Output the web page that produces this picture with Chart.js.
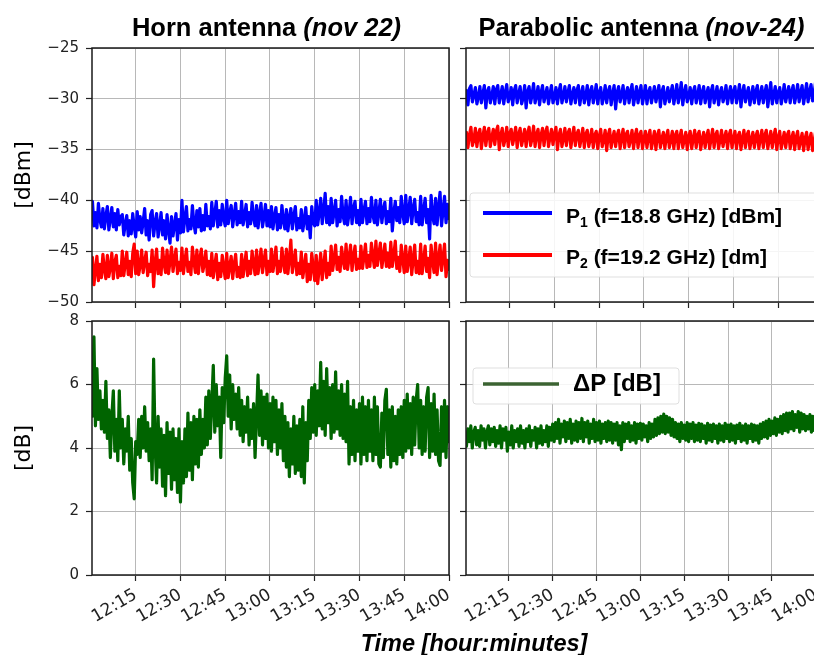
<!DOCTYPE html>
<html><head><meta charset="utf-8">
<script src="https://cdn.jsdelivr.net/npm/chart.js@4.4.1/dist/chart.umd.min.js"></script>
<style>
html,body{margin:0;padding:0;background:#fff;overflow:hidden;}
#wrap{position:relative;width:814px;height:655px;overflow:hidden;background:#fff;}
#wrap canvas{position:absolute;left:0;top:0;}
</style></head><body>
<div id="wrap">
<canvas id="cTL" width="830" height="655"></canvas>
<canvas id="cTR" width="830" height="655"></canvas>
<canvas id="cBL" width="830" height="655"></canvas>
<canvas id="cBR" width="830" height="655"></canvas>
</div>
<script>
// ---------- DATA ----------
// samples: one every half minute, first one 0.5 min after 12:00
const sampleStartMin = 0.5;
const sampleStepMin = 0.5;
const timeTicksMin = [15, 30, 45, 60, 75, 90, 105, 120];   // 12:15 ... 14:00
const panelTitles = [['Horn antenna ', '(nov 22)'], ['Parabolic antenna ', '(nov-24)']];
const seriesLabels = ['P\u2081 (f=18.8 GHz) [dBm]', 'P\u2082 (f=19.2 GHz) [dm]', '\u0394P [dB]'];
const xAxisLabel = 'Time [hour:minutes]';
const powerAxisLabel = '[dBm]';
const diffAxisLabel = '[dB]';

// Horn antenna (nov 22)  [dBm]
const hornP1 = [
 -40.1,-42.5,-41.2,-42.7,-40.3,-41.9,-42.6,-40.8,-42.8,-41.5,-40.6,-42.9,-41.8,-40.7,-42.6,-41.3,-42.9,-40.9,-42.4,-41.6,
 -41.4,-43.4,-42.3,-41.5,-43.5,-42.0,-43.3,-41.3,-42.6,-43.6,-41.1,-42.9,-41.6,-43.2,-42.1,-40.8,-43.4,-42.0,-43.9,-41.4,
 -41.0,-43.5,-42.2,-41.3,-43.6,-42.5,-41.2,-43.4,-42.0,-43.8,-41.4,-42.9,-44.2,-41.6,-43.5,-42.4,-41.3,-43.9,-41.9,-43.2,
 -40.0,-43.1,-41.7,-40.6,-43.0,-41.9,-42.8,-40.5,-42.3,-43.2,-41.0,-42.6,-40.8,-43.0,-41.5,-42.9,-40.4,-42.5,-41.6,-42.8,
 -40.2,-42.5,-41.3,-40.1,-42.6,-41.0,-42.4,-40.4,-41.8,-42.5,-40.0,-42.3,-41.2,-40.5,-42.6,-41.4,-40.3,-42.4,-41.1,-42.2,
 -40.1,-42.4,-41.5,-40.4,-42.6,-41.2,-42.3,-40.2,-41.7,-42.5,-40.5,-42.7,-41.3,-40.3,-42.6,-41.6,-40.4,-42.5,-41.0,-42.6,
 -40.6,-42.8,-41.6,-40.7,-42.9,-41.4,-42.7,-40.5,-42.0,-42.8,-40.9,-43.0,-41.7,-40.8,-42.8,-41.5,-40.6,-42.9,-41.8,-42.7,
 -40.9,-43.0,-41.9,-40.7,-42.8,-41.6,-43.7,-40.6,-42.2,-42.5,-40.0,-42.4,-41.2,-39.8,-42.3,-41.0,-39.3,-42.2,-40.6,-42.4,
 -39.8,-42.2,-41.1,-40.0,-42.5,-40.9,-42.1,-39.6,-41.5,-42.3,-40.0,-42.4,-41.3,-39.7,-42.3,-40.8,-40.1,-42.2,-41.0,-42.4,
 -39.9,-42.2,-41.0,-40.1,-42.3,-40.8,-42.1,-39.7,-41.4,-42.2,-40.0,-42.4,-41.2,-39.9,-42.2,-40.9,-40.2,-42.3,-41.1,-42.1,
 -39.8,-43.0,-41.2,-40.1,-42.0,-40.7,-42.2,-39.6,-41.3,-42.3,-39.5,-42.1,-41.0,-39.7,-42.3,-40.8,-39.9,-42.1,-41.2,-42.4,
 -39.6,-42.4,-41.0,-39.8,-42.2,-40.9,-43.8,-39.5,-41.5,-42.3,-39.8,-42.4,-40.7,-39.2,-42.5,-41.0,-39.6,-42.2,-40.4,-41.8
];
const hornP2 = [
 -45.6,-48.3,-46.9,-45.5,-47.9,-46.3,-47.6,-45.3,-46.8,-47.7,-45.4,-47.5,-46.6,-45.2,-47.7,-46.1,-45.4,-47.6,-46.5,-47.4,
 -45.0,-47.4,-46.2,-45.1,-47.3,-46.0,-47.5,-45.2,-44.3,-47.2,-45.0,-47.3,-46.4,-44.9,-47.1,-46.0,-45.1,-47.4,-46.3,-47.0,
 -44.9,-48.5,-46.1,-44.8,-47.2,-45.9,-47.3,-44.7,-46.2,-47.1,-44.9,-47.2,-46.0,-44.6,-47.0,-45.8,-44.8,-47.2,-46.1,-46.9,
 -44.7,-47.2,-45.9,-44.8,-47.0,-46.1,-47.3,-44.6,-46.0,-47.1,-44.9,-47.2,-45.7,-44.8,-47.0,-46.2,-45.0,-47.3,-46.0,-47.4,
 -45.2,-47.6,-46.4,-45.3,-47.8,-46.2,-47.5,-45.4,-46.6,-47.7,-45.2,-47.6,-46.5,-45.5,-47.7,-46.3,-45.3,-47.5,-46.6,-47.6,
 -45.3,-47.5,-46.3,-45.1,-47.4,-46.0,-47.2,-45.0,-46.2,-47.3,-44.9,-47.2,-46.1,-44.8,-47.1,-45.9,-44.9,-47.3,-46.0,-47.0,
 -44.8,-47.0,-45.9,-44.6,-47.2,-46.0,-47.0,-44.7,-46.1,-47.1,-44.8,-47.2,-45.8,-43.9,-47.1,-46.0,-44.9,-47.3,-46.2,-47.2,
 -45.1,-47.6,-46.5,-45.3,-48.0,-46.3,-47.8,-45.2,-46.6,-47.9,-45.4,-48.2,-46.7,-45.2,-47.8,-46.4,-45.0,-47.6,-46.2,-47.3,
 -44.5,-46.9,-45.8,-44.4,-46.8,-45.6,-47.0,-44.6,-45.9,-46.7,-44.3,-46.8,-45.7,-44.4,-46.9,-45.5,-44.5,-46.8,-45.8,-46.7,
 -44.5,-46.7,-45.6,-44.3,-46.6,-45.4,-46.5,-44.2,-45.5,-46.6,-44.0,-46.4,-45.3,-44.2,-46.6,-45.5,-44.3,-46.5,-45.2,-46.6,
 -44.1,-46.5,-45.4,-44.0,-46.7,-45.6,-47.0,-44.4,-45.8,-47.1,-44.5,-47.0,-45.9,-44.6,-47.3,-45.8,-44.4,-47.1,-46.0,-47.2,
 -44.3,-47.2,-45.9,-44.5,-47.0,-45.7,-47.6,-44.4,-46.0,-47.1,-44.2,-47.3,-45.8,-44.4,-46.9,-45.6,-44.3,-47.5,-45.9,-46.8
];
// Horn antenna (nov 22)  [dB]
const hornDP = [
 5.0,7.5,4.7,6.5,4.9,5.8,4.6,5.5,4.5,6.1,4.3,5.2,3.7,5.0,5.8,3.9,4.9,3.6,5.8,4.0,
 4.9,3.5,4.6,3.9,5.0,3.3,4.3,2.9,2.4,4.2,3.8,4.9,3.7,5.0,4.0,5.3,3.9,4.8,3.6,4.6,
 3.0,6.8,4.1,2.9,5.0,3.4,4.6,2.8,4.4,2.5,4.8,3.2,4.5,2.7,4.6,3.0,4.3,2.6,4.6,2.3,
 4.2,2.9,4.6,3.1,5.1,3.3,4.8,3.0,5.0,3.5,4.9,3.4,5.2,3.8,4.9,4.0,5.6,4.1,5.8,4.3,
 5.4,6.6,4.5,6.0,4.7,5.6,3.7,5.9,4.8,6.2,6.9,5.0,6.3,4.6,6.0,4.9,5.7,4.6,5.9,4.4,
 5.5,4.2,5.3,4.5,5.6,4.1,5.2,4.3,5.4,3.7,5.0,6.3,4.4,5.8,4.1,5.6,4.3,5.7,4.0,5.4,
 3.9,5.6,4.2,5.5,3.8,5.2,4.0,5.4,3.6,5.0,3.4,4.8,3.1,4.6,3.5,5.0,3.2,4.7,3.3,4.9,
 3.1,5.3,2.9,4.8,3.6,5.5,4.3,5.9,4.5,6.0,4.4,5.8,4.7,6.7,4.6,6.1,4.4,6.5,4.8,5.9,
 4.3,6.0,4.5,6.4,4.6,5.8,4.4,6.0,4.3,5.7,4.2,6.1,3.5,5.3,3.8,5.5,3.6,5.2,3.9,5.4,
 3.5,5.6,3.8,5.3,3.6,5.5,3.9,5.2,3.6,5.6,3.8,5.3,3.5,3.4,5.1,3.7,5.5,5.85,3.8,5.2,
 3.4,5.3,3.6,5.0,3.5,5.2,3.8,5.3,3.7,5.5,3.9,5.7,4.0,5.4,3.8,5.6,4.1,5.5,6.0,4.0,
 5.5,3.8,5.3,3.9,5.6,5.9,3.7,5.4,3.9,5.7,3.8,5.2,3.6,3.45,5.3,3.9,5.5,3.7,5.3,4.2
];
// Parabolic antenna (nov-24)  [dBm]
const paraP1 = [
 -29.2,-30.6,-29.0,-28.7,-30.3,-29.6,-28.9,-30.5,-29.8,-28.8,-30.4,-29.5,-28.7,-30.9,-29.3,-28.9,-30.4,-29.7,-28.8,-30.5,
 -29.1,-28.7,-30.4,-29.6,-28.8,-30.5,-29.4,-28.6,-30.3,-29.8,-28.9,-30.6,-29.2,-28.7,-30.4,-29.5,-28.8,-30.5,-29.9,-28.7,
 -30.9,-29.3,-28.8,-30.4,-29.6,-28.5,-30.4,-29.7,-28.8,-30.6,-29.4,-28.7,-30.3,-29.6,-28.9,-30.5,-29.5,-28.7,-30.4,-29.8,
 -28.9,-30.5,-29.3,-28.6,-30.4,-29.7,-28.8,-30.3,-29.4,-28.7,-30.5,-29.6,-28.9,-30.4,-29.2,-28.7,-30.6,-29.5,-28.8,-30.4,
 -29.7,-28.7,-30.6,-29.3,-28.8,-30.4,-29.6,-28.6,-30.5,-29.4,-28.9,-30.5,-29.8,-28.7,-30.4,-29.3,-28.8,-30.6,-29.5,-28.7,
 -31.0,-29.4,-28.8,-30.3,-29.6,-28.7,-30.5,-29.5,-28.9,-30.4,-29.3,-28.6,-30.6,-29.7,-28.8,-30.4,-29.4,-28.7,-30.5,-29.6,
 -28.7,-30.5,-29.4,-28.9,-30.4,-29.6,-28.8,-30.3,-29.5,-28.7,-30.8,-29.3,-28.8,-30.5,-29.7,-28.9,-30.3,-29.4,-28.7,-30.5,
 -29.6,-28.6,-30.4,-29.5,-28.4,-30.6,-29.4,-28.7,-30.3,-29.7,-28.9,-30.5,-29.3,-28.8,-30.4,-29.6,-28.7,-30.5,-29.4,-28.8,
 -30.4,-29.5,-28.9,-30.8,-29.3,-28.7,-30.4,-29.6,-28.8,-30.6,-29.4,-28.9,-30.3,-29.7,-28.7,-30.5,-29.5,-28.8,-30.4,-29.3,
 -28.8,-30.4,-29.6,-28.6,-30.8,-29.4,-28.7,-30.3,-29.5,-28.9,-30.6,-29.7,-28.8,-30.4,-29.3,-28.7,-30.5,-29.6,-28.8,-30.4,
 -29.4,-28.7,-30.8,-29.5,-28.4,-30.5,-29.6,-28.8,-30.4,-29.4,-28.9,-30.5,-29.7,-28.6,-30.3,-29.5,-28.8,-30.4,-29.3,-28.7,
 -30.4,-29.6,-28.6,-30.3,-29.4,-28.7,-30.5,-29.5,-28.5,-30.3,-29.3,-28.6,-30.2,-29.5,-28.4,-30.3,-29.4,-28.5,-30.2,-29.3
];
const paraP2 = [
 -33.3,-34.8,-33.6,-32.8,-34.6,-34.0,-32.9,-34.7,-33.5,-33.0,-34.9,-33.7,-32.8,-34.6,-33.4,-32.9,-34.7,-33.8,-33.0,-34.5,
 -33.2,-32.7,-35.0,-33.6,-32.9,-34.6,-33.9,-32.8,-34.7,-33.4,-33.0,-34.5,-33.7,-32.8,-34.8,-33.5,-32.9,-34.6,-33.8,-33.0,
 -34.7,-33.4,-32.8,-34.6,-33.9,-32.7,-34.7,-33.5,-33.0,-34.8,-33.6,-32.9,-34.6,-33.3,-32.8,-34.7,-33.8,-33.0,-34.5,-33.5,
 -32.8,-35.0,-33.6,-33.0,-34.7,-33.9,-32.9,-34.6,-33.4,-33.0,-34.8,-33.7,-32.8,-34.6,-33.5,-33.1,-34.7,-33.8,-32.9,-34.8,
 -33.5,-33.1,-34.7,-33.9,-33.0,-34.8,-33.6,-33.2,-34.9,-33.7,-33.0,-34.7,-34.0,-33.1,-35.1,-33.6,-33.0,-34.8,-33.9,-33.2,
 -34.7,-33.6,-33.1,-34.9,-33.8,-33.0,-34.8,-33.5,-33.2,-34.7,-34.0,-33.1,-34.9,-33.7,-33.0,-34.8,-33.6,-33.2,-34.9,-33.9,
 -33.2,-34.8,-33.7,-33.1,-34.9,-34.0,-33.2,-35.0,-33.6,-33.1,-34.8,-33.9,-33.3,-34.9,-33.7,-33.1,-34.8,-34.0,-33.2,-34.9,
 -33.6,-33.2,-34.9,-33.8,-33.1,-34.8,-34.0,-33.3,-35.0,-33.7,-33.2,-34.9,-33.9,-33.1,-34.8,-33.6,-33.2,-35.0,-34.0,-33.3,
 -34.8,-33.7,-33.1,-34.9,-33.9,-33.0,-34.8,-33.6,-33.2,-34.9,-34.0,-33.1,-34.7,-33.8,-33.2,-34.9,-33.6,-33.1,-34.8,-33.9,
 -33.2,-34.9,-33.7,-33.3,-35.0,-33.9,-33.1,-34.8,-33.6,-33.2,-34.9,-34.0,-33.3,-34.8,-33.7,-33.2,-34.9,-33.9,-33.1,-34.8,
 -33.6,-33.1,-34.9,-34.0,-33.2,-34.8,-33.7,-33.0,-35.0,-33.8,-33.2,-34.9,-34.1,-33.3,-34.8,-33.6,-33.2,-34.9,-33.9,-33.3,
 -35.0,-33.8,-33.2,-34.9,-34.1,-33.4,-35.1,-33.9,-33.3,-35.0,-34.0,-33.4,-35.1,-34.2,-33.3,-34.9,-33.8,-33.2,-34.8,-34.0
];
// Parabolic antenna (nov-24)  [dB]
const paraDP = [
 4.05,4.6,4.2,4.7,4.0,4.5,4.65,4.1,4.55,4.05,4.7,4.25,4.6,4.0,4.5,4.7,4.1,4.6,4.2,4.65,
 4.05,4.55,4.15,4.7,4.0,4.6,4.25,4.65,3.9,4.5,4.1,4.7,4.0,4.55,4.2,4.6,4.05,4.7,4.15,4.55,
 4.0,4.6,4.2,4.7,4.05,4.55,4.25,4.65,4.0,4.6,4.15,4.7,4.1,4.55,4.2,4.7,4.05,4.65,4.25,4.75,
 4.2,4.8,4.3,4.9,4.15,4.75,4.35,4.85,4.2,4.8,4.3,4.9,4.15,4.75,4.25,4.85,4.2,4.8,4.3,4.93,
 4.2,4.8,4.35,4.85,4.15,4.75,4.3,4.9,4.2,4.8,4.25,4.85,4.15,4.75,4.3,4.8,4.2,4.85,4.25,4.8,
 4.15,4.75,4.25,4.8,4.1,4.7,3.95,4.8,4.2,4.75,4.3,4.8,4.2,4.7,4.25,4.8,4.15,4.75,4.3,4.78,
 4.25,4.75,4.35,4.7,4.2,4.8,4.3,4.75,4.35,4.9,4.4,4.95,4.45,5.0,4.5,5.07,4.45,5.0,4.5,4.95,
 4.4,4.9,4.35,4.8,4.3,4.75,4.2,4.8,4.3,4.72,4.25,4.8,4.2,4.75,4.3,4.8,4.2,4.72,4.25,4.78,
 4.2,4.75,4.3,4.7,4.15,4.78,4.25,4.72,4.2,4.75,4.3,4.7,4.15,4.75,4.25,4.7,4.2,4.78,4.3,4.72,
 4.2,4.75,4.25,4.7,4.15,4.72,4.3,4.78,4.2,4.7,4.25,4.75,4.15,4.7,4.3,4.75,4.2,4.72,4.25,4.7,
 4.15,4.75,4.3,4.8,4.35,4.85,4.3,4.9,4.4,4.85,4.45,4.95,4.4,4.9,4.5,5.0,4.45,5.05,4.55,5.1,
 4.5,5.1,4.6,5.15,4.55,5.05,4.65,5.15,4.5,5.1,4.6,5.05,4.55,5.0,4.6,5.05,4.5,5.0,4.55,4.95
];

// ---------- helpers ----------
const toXY = arr => arr.map((v, i) => ({x: sampleStartMin + i * sampleStepMin, y: v}));
const timeLabel = v => (12 + Math.floor(v / 60)) + ':' + String(v % 60).padStart(2, '0');
const minusLabel = v => String(v).replace('-', '\u2212');
const YTICK_FONT = {family: 'DejaVu Sans', size: 15};
const XTICK_FONT = {family: 'DejaVu Sans', size: 17};
const GRID = {color: '#b8b8b8', lineWidth: 1, tickLength: 6, tickColor: '#222', tickWidth: 1.2};
const SANS = "'Liberation Sans', Arial, sans-serif";

const framePlugin = {
  id: 'frame',
  afterDatasetsDraw(chart) {
    const {ctx, chartArea: a} = chart;
    ctx.save();
    ctx.strokeStyle = '#1a1a1a';
    ctx.lineWidth = 1.5;
    ctx.strokeRect(a.left, a.top, a.right - a.left, a.bottom - a.top);
    ctx.restore();
  }
};

function drawRich(ctx, x, y, text, size, weight) {
  const parts = text.split(/([\u2080-\u2089]+)/);
  let cx = x;
  for (const p of parts) {
    if (!p) continue;
    if (/^[\u2080-\u2089]+$/.test(p)) {
      const digits = [...p].map(c => String(c.charCodeAt(0) - 0x2080)).join('');
      ctx.font = `${weight} ${Math.round(size * 0.66)}px ${SANS}`;
      ctx.fillText(digits, cx, y + size * 0.2);
      cx += ctx.measureText(digits).width;
    } else {
      ctx.font = `${weight} ${size}px ${SANS}`;
      ctx.fillText(p, cx, y);
      cx += ctx.measureText(p).width;
    }
  }
}

const panelTitlePlugin = {
  id: 'panelTitle',
  afterDraw(chart, args, opts) {
    if (!opts || !opts.parts) return;
    const {ctx, chartArea: a} = chart;
    ctx.save();
    ctx.fillStyle = '#000';
    ctx.textBaseline = 'alphabetic';
    ctx.textAlign = 'left';
    const f1 = `bold ${opts.size}px ${SANS}`;
    const f2 = `italic bold ${opts.size}px ${SANS}`;
    ctx.font = f1; const w1 = ctx.measureText(opts.parts[0]).width;
    ctx.font = f2; const w2 = ctx.measureText(opts.parts[1]).width;
    const x = (a.left + a.right) / 2 - (w1 + w2) / 2 + (opts.dx || 0);
    ctx.font = f1; ctx.fillText(opts.parts[0], x, opts.baseline);
    ctx.font = f2; ctx.fillText(opts.parts[1], x + w1, opts.baseline);
    ctx.restore();
  }
};

const innerLegendPlugin = {
  id: 'innerLegend',
  afterDraw(chart, args, opts) {
    if (!opts || !opts.rows) return;
    const {ctx} = chart;
    ctx.save();
    const b = opts.box;
    ctx.fillStyle = 'rgba(255,255,255,0.85)';
    ctx.strokeStyle = 'rgba(215,215,215,0.8)';
    ctx.lineWidth = 1;
    ctx.beginPath();
    ctx.roundRect(b[0], b[1], b[2], b[3], 3);
    ctx.fill(); ctx.stroke();
    for (const r of opts.rows) {
      const ds = chart.data.datasets[r.ds];
      ctx.strokeStyle = r.color || ds.borderColor;
      ctx.lineWidth = opts.lineWidth;
      ctx.lineCap = 'butt';
      ctx.beginPath();
      ctx.moveTo(opts.lineX[0], r.y); ctx.lineTo(opts.lineX[1], r.y);
      ctx.stroke();
      ctx.fillStyle = '#000';
      ctx.textAlign = 'left';
      ctx.textBaseline = 'alphabetic';
      drawRich(ctx, opts.textX, r.base, ds.label, opts.size, 'bold');
    }
    ctx.restore();
  }
};

const supLabelPlugin = {
  id: 'supLabel',
  afterDraw(chart, args, opts) {
    if (!opts || !opts.text) return;
    const {ctx} = chart;
    ctx.save();
    ctx.fillStyle = '#000';
    ctx.font = `italic bold ${opts.size}px ${SANS}`;
    ctx.textAlign = 'center';
    ctx.textBaseline = 'alphabetic';
    ctx.fillText(opts.text, opts.x, opts.y);
    ctx.restore();
  }
};

function lineDs(label, values, color) {
  return {
    label, data: toXY(values), borderColor: color, backgroundColor: color,
    borderWidth: 3.2, pointRadius: 0, tension: 0, fill: false,
    borderJoinStyle: 'round', borderCapStyle: 'round'
  };
}

function makePanel(id, o) {
  const xScale = {
    type: 'linear', min: 0.35, max: 120,
    afterBuildTicks: s => { s.ticks = timeTicksMin.map(v => ({value: v})); },
    afterFit: s => { s.height = o.xHeight; },
    grid: GRID, border: {display: false},
    ticks: o.xLabels ? {
      display: true, font: XTICK_FONT, color: '#222', autoSkip: false,
      minRotation: 30, maxRotation: 30, padding: 4, callback: v => timeLabel(v)
    } : {display: false}
  };
  const yScale = {
    type: 'linear', min: o.yMin, max: o.yMax,
    afterFit: s => { s.width = o.yWidth; },
    grid: GRID, border: {display: false},
    ticks: o.yLabels ? {display: true, stepSize: o.yStep, font: YTICK_FONT, color: '#222', padding: 7,
      callback: v => minusLabel(v)} : {display: false, stepSize: o.yStep},
    title: o.yTitle ? {display: true, text: o.yTitle, font: {family: 'DejaVu Sans', size: 22}, color: '#000', padding: 0} : {display: false}
  };
  return new Chart(document.getElementById(id), {
    type: 'line',
    data: {datasets: o.datasets},
    options: {
      responsive: false, animation: false, devicePixelRatio: 1,
      layout: {padding: o.padding},
      scales: {x: xScale, y: yScale},
      plugins: {
        legend: {display: false}, tooltip: {enabled: false}, title: {display: false},
        panelTitle: o.title || {}, innerLegend: o.legend || {}, supLabel: o.sup || {}
      }
    },
    plugins: [framePlugin, panelTitlePlugin, innerLegendPlugin, supLabelPlugin]
  });
}

// Top-left: Horn, powers
makePanel('cTL', {
  datasets: [lineDs(seriesLabels[0], hornP1, '#0000ff'), lineDs(seriesLabels[1], hornP2, '#ff0000')],
  yMin: -50, yMax: -25, yStep: 5, yLabels: true, yTitle: powerAxisLabel, yWidth: 81, xHeight: 10, xLabels: false,
  padding: {left: 11, right: 381, top: 48, bottom: 343},
  title: {parts: panelTitles[0], size: 25.5, baseline: 36, dx: -4}
});
// Top-right: Parabolic, powers
makePanel('cTR', {
  datasets: [lineDs(seriesLabels[0], paraP1, '#0000ff'), lineDs(seriesLabels[1], paraP2, '#ff0000')],
  yMin: -50, yMax: -25, yStep: 5, yLabels: false, yWidth: 20, xHeight: 10, xLabels: false,
  padding: {left: 446, right: 7, top: 48, bottom: 343},
  title: {parts: panelTitles[1], size: 25.5, baseline: 36, dx: -3},
  legend: {box: [470, 193, 360, 84], lineX: [483, 552], textX: 566, size: 21, lineWidth: 4,
    rows: [{ds: 0, y: 213, base: 223}, {ds: 1, y: 255, base: 264}]}
});
// Bottom-left: Horn, difference
makePanel('cBL', {
  datasets: [lineDs(seriesLabels[2], hornDP, '#006400')],
  yMin: 0, yMax: 8, yStep: 2, yLabels: true, yTitle: diffAxisLabel, yWidth: 81, xHeight: 60, xLabels: true,
  padding: {left: 11, right: 381, top: 321, bottom: 20},
  sup: {text: xAxisLabel, x: 474, y: 651, size: 23.5}
});
// Bottom-right: Parabolic, difference
makePanel('cBR', {
  datasets: [lineDs(seriesLabels[2], paraDP, '#006400')],
  yMin: 0, yMax: 8, yStep: 2, yLabels: false, yWidth: 20, xHeight: 60, xLabels: true,
  padding: {left: 446, right: 7, top: 321, bottom: 20},
  legend: {box: [473, 368, 206, 36], lineX: [483, 559], textX: 573, size: 24, lineWidth: 3.5,
    rows: [{ds: 0, y: 384, base: 391, color: '#3b6332'}]}
});
</script>
</body></html>
